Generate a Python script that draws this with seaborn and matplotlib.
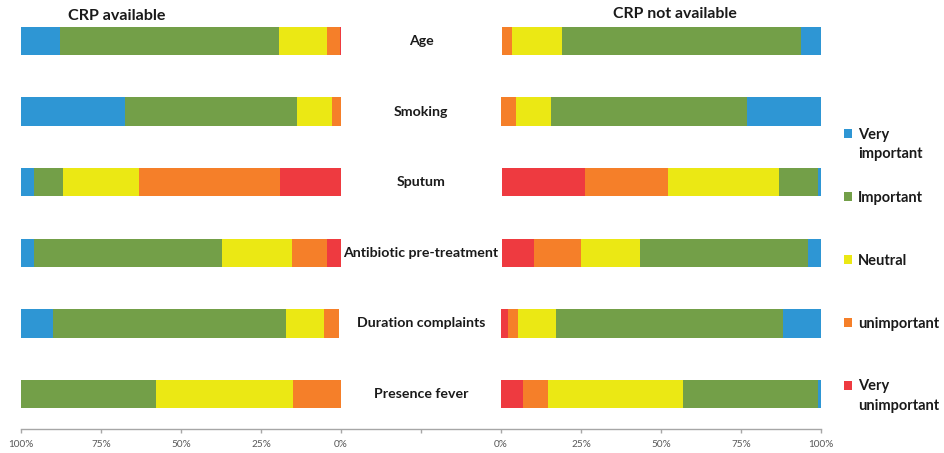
import matplotlib
matplotlib.use("Agg")
import matplotlib.pyplot as plt
import seaborn as sns
import pandas as pd
import numpy as np
from matplotlib.patches import Patch

# ---------------- data ----------------
categories = ["Age", "Smoking", "Sputum", "Antibiotic pre-treatment",
              "Duration complaints", "Presence fever"]
# stacking order, measured from the outer (100%) edge of each panel
levels = ["Very important", "Important", "Neutral", "unimportant", "Very unimportant"]

# CRP available (left panel), percentages
avail_very_imp = [12.1, 32.6, 4.1, 4.1, 10.0, 0.0]
avail_imp = [68.5, 53.5, 9.0, 58.8, 72.7, 42.1]
avail_neutral = [14.9, 11.0, 23.8, 21.8, 11.9, 42.9]
avail_unimp = [4.1, 3.0, 43.9, 10.9, 4.9, 14.9]
avail_very_unimp = [0.8, 0.0, 19.8, 4.9, 0.0, 0.0]

# CRP not available (right panel), percentages
notav_very_imp = [6.2, 23.0, 1.0, 4.1, 12.0, 1.0]
notav_imp = [74.6, 61.5, 12.0, 52.6, 70.9, 42.0]
notav_neutral = [15.9, 10.8, 34.8, 18.2, 11.9, 42.2]
notav_unimp = [3.1, 5.1, 25.9, 14.9, 2.9, 7.9]
notav_very_unimp = [0.0, 0.0, 26.1, 10.0, 3.1, 6.9]

tick_positions = [-125, -100, -75, -50, -25, 0, 25, 50, 75, 100, 125]
tick_labels = ["100%", "75%", "50%", "25%", "0%", "", "0%", "25%", "50%", "75%", "100%"]

colors = {
    "Very important": "#2E96D4",
    "Important": "#739F48",
    "Neutral": "#EBE814",
    "unimportant": "#F57F29",
    "Very unimportant": "#EE3A40",
}

# ---------------- figure ----------------
sns.set_style("white")
plt.rcParams["font.family"] = ["Lato", "DejaVu Sans"]

W, H = 945, 453
fig = plt.figure(figsize=(W / 100, H / 100), dpi=100)


def fx(px):
    return px / W


top_px, bot_px = 5.7, 429.3
ax_bottom = 1 - bot_px / H
ax_height = (bot_px - top_px) / H

# base axis: continuous bottom line with ticks
ax_b = fig.add_axes([fx(21), ax_bottom, fx(800), ax_height])
ax_b.set_xlim(-125, 125)
ax_b.set_ylim(5.5, -0.5)
for s in ["top", "left", "right"]:
    ax_b.spines[s].set_visible(False)
ax_b.spines["bottom"].set_color("#A6A6A6")
ax_b.spines["bottom"].set_linewidth(1.0)
ax_b.set_xticks(tick_positions)
ax_b.set_xticklabels(tick_labels)
ax_b.set_yticks([])
ax_b.tick_params(axis="x", direction="out", length=3, width=1.0, color="#A6A6A6",
                 labelsize=7.2, labelcolor="#595959", pad=4.5, bottom=True)
ax_b.patch.set_alpha(0)

for i, c in enumerate(categories):
    ax_b.text(0, i, c, ha="center", va="center", fontsize=10.2, fontweight="bold",
              color="#1a1a1a")


def stacked(ax, parts):
    df = pd.DataFrame({"category": categories})
    cum = np.zeros(len(categories))
    cums = {}
    for lev, vals in zip(levels, parts):
        cum = cum + np.array(vals)
        cums[lev] = cum.copy()
    for lev in reversed(levels):
        d = df.copy()
        d["value"] = cums[lev]
        sns.barplot(data=d, x="value", y="category", order=categories, orient="h",
                    color=colors[lev], width=0.4, errorbar=None, ax=ax,
                    linewidth=0, saturation=1)


# left panel: distance measured from the 100% edge at the left
ax_l = fig.add_axes([fx(21), ax_bottom, fx(320), ax_height])
stacked(ax_l, [avail_very_imp, avail_imp, avail_neutral, avail_unimp, avail_very_unimp])
ax_l.set_xlim(0, 100)
ax_l.set_ylim(5.5, -0.5)
ax_l.axis("off")

# right panel: distance measured from the 100% edge at the right
ax_r = fig.add_axes([fx(501), ax_bottom, fx(320), ax_height])
stacked(ax_r, [notav_very_imp, notav_imp, notav_neutral, notav_unimp, notav_very_unimp])
ax_r.set_xlim(100, 0)
ax_r.set_ylim(5.5, -0.5)
ax_r.axis("off")

# titles
fig.text(fx(117), 1 - 16 / H, "CRP available", ha="center", va="center",
         fontsize=11.6, fontweight="bold", color="#1a1a1a")
fig.text(fx(675), 1 - 14 / H, "CRP not available", ha="center", va="center",
         fontsize=11.4, fontweight="bold", color="#1a1a1a")

# legend (first lines in the legend, second lines as extra text)
leg_levels = ["Very important", "Important", "Neutral", "unimportant", "Very unimportant"]
leg_first = ["Very", "Important", "Neutral", "unimportant", "Very"]
handles = [Patch(facecolor=colors[l], edgecolor="none") for l in leg_levels]
leg_fs = 10.5
leg = fig.legend(handles, leg_first, loc="upper left",
                 bbox_to_anchor=(fx(844), 1 - 128 / H), frameon=False,
                 prop={"weight": "bold", "size": leg_fs}, handlelength=0.55,
                 handleheight=0.55, handletextpad=0.4, labelspacing=3.35,
                 borderpad=0, borderaxespad=0)
for t in leg.get_texts():
    t.set_color("#1a1a1a")

fig.text(fx(858), 1 - 154 / H, "important", ha="left", va="center",
         fontsize=leg_fs, fontweight="bold", color="#1a1a1a")
fig.text(fx(858), 1 - 406 / H, "unimportant", ha="left", va="center",
         fontsize=leg_fs, fontweight="bold", color="#1a1a1a")

fig.savefig("out.png", dpi=100)
